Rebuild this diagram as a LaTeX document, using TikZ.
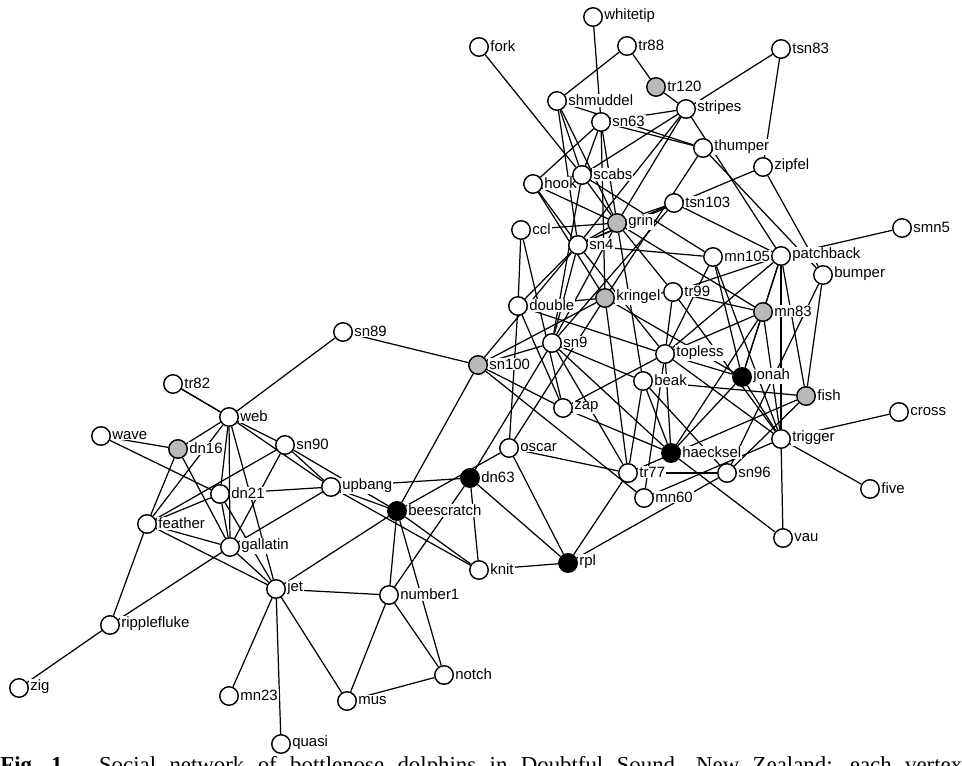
\documentclass[tikz,border=0pt]{standalone}
\usepackage{fontspec}
\setmainfont{Liberation Serif}
\setsansfont{Liberation Sans}
\usetikzlibrary{backgrounds}

\begin{document}
\begin{tikzpicture}[x = 0.02cm, y = -0.02cm]
        \tikzset{Dolphin/.style = {circle, draw, fill = white,
            minimum size = 0.37cm, inner sep = 0pt, line width = 0.8pt,
            label = {[Tag]right:#1}},
          Tag/.style  = {font = \sffamily\fontsize{8.5}{9}\selectfont,
            fill = white, inner sep = 0.6pt, yshift = 0.5pt},
          Plain/.style = {},
          Grey/.style  = {fill = gray!55},
          Black/.style = {fill = black},
          Link/.style  = {line width = 0.7pt}}
        \useasboundingbox (0,0) rectangle (962,766);
        % dolphins
        \foreach \n/\x/\y/\s in {whitetip/593/17/Plain, fork/479/47/Plain,
            tr88/627/46/Plain, tr120/656/87/Grey, tsn83/781/49/Plain,
            shmuddel/557/101/Plain, sn63/601/122/Plain, stripes/686/109/Plain,
            thumper/703/148/Plain, zipfel/763/167/Plain, hook/533/184/Plain,
            scabs/582/175/Plain, tsn103/674/203/Plain, grin/617/223/Grey,
            smn5/902/228/Plain, ccl/521/230/Plain, sn4/578/245/Plain,
            mn105/713/257/Plain, patchback/781/256/Plain, bumper/823/275/Plain,
            double/518/306/Plain, kringel/605/298/Grey, tr99/673/292/Plain,
            mn83/763/312/Grey, sn89/343/332/Plain, sn9/552/343/Plain,
            topless/665/354/Plain, sn100/478/365/Grey, jonah/742/377/Black,
            beak/643/381/Plain, tr82/173/384/Plain, fish/806/396/Grey,
            zap/563/408/Plain, cross/899/412/Plain, web/229/417/Plain,
            wave/101/436/Plain, dn16/178/449/Grey, sn90/285/445/Plain,
            trigger/781/439/Plain, oscar/509/448/Plain, haecksel/671/453/Black,
            tr77/628/473/Plain, sn96/727/473/Plain, dn63/470/478/Black,
            dn21/220/494/Plain, upbang/331/487/Plain, mn60/644/498/Plain,
            five/870/489/Plain, feather/147/524/Plain, beescratch/397/511/Black,
            gallatin/230/547/Plain, knit/479/570/Plain, rpl/568/563/Black,
            jet/276/589/Plain, number1/389/595/Plain, ripplefluke/110/625/Plain,
            vau/783/538/Plain, notch/444/675/Plain, zig/19/688/Plain,
            mn23/229/696/Plain, mus/347/701/Plain, quasi/281/744/Plain}
          \node[Dolphin = \n, \s] (\n) at (\x,\y) {};
        % associations
        \begin{scope}[on background layer]
          \foreach \a/\b in {double/ccl, feather/dn16, feather/dn21, fish/beak,
              fish/bumper, gallatin/dn16, gallatin/dn21, gallatin/feather,
              grin/beak, grin/ccl, haecksel/beak, hook/grin, jet/beescratch,
              jet/dn21, jet/feather, jet/gallatin, jonah/haecksel,
              knit/beescratch, knit/dn63, kringel/double, kringel/hook,
              kringel/jonah, mn105/jonah, mn23/jet, mn83/grin, mn83/haecksel,
              mn83/jonah, mus/jet, notch/beescratch, notch/mus,
              number1/beescratch, number1/dn63, number1/jet, number1/mus,
              number1/notch, oscar/beescratch, oscar/double, oscar/kringel,
              patchback/fish, patchback/jonah, patchback/mn105, patchback/mn83,
              rpl/dn63, rpl/knit, rpl/oscar, quasi/jet, ripplefluke/feather,
              ripplefluke/gallatin, scabs/fork, scabs/grin, scabs/hook,
              scabs/mn105, shmuddel/grin, shmuddel/scabs, smn5/patchback,
              sn100/beescratch, sn100/kringel, sn100/mn60, sn4/double, sn4/grin,
              sn4/hook, sn4/mn105, sn4/shmuddel, sn4/sn100, sn63/grin,
              sn63/hook, sn63/kringel, sn63/scabs, sn89/sn100, sn9/beak,
              sn9/dn63, sn9/grin, sn9/haecksel, sn9/scabs, sn9/sn100, sn9/sn4,
              sn90/beescratch, sn90/feather, sn90/gallatin, sn96/beak,
              sn96/bumper, sn96/fish, sn96/rpl, stripes/grin, stripes/patchback,
              stripes/scabs, stripes/sn4, stripes/sn63, thumper/bumper,
              thumper/kringel, thumper/shmuddel, thumper/sn63, topless/double,
              topless/haecksel, topless/jonah, topless/mn105, topless/mn60,
              topless/mn83, topless/patchback, topless/sn4, tr120/stripes,
              tr77/beak, tr77/fish, tr77/kringel, tr77/oscar, tr77/rpl,
              tr77/sn9, tr77/sn96, tr82/web, tr88/tr120, tr88/shmuddel,
              tr99/grin, tr99/kringel, tr99/mn83, tr99/patchback, tr99/topless,
              trigger/cross, trigger/five, trigger/jonah, trigger/mn105,
              trigger/mn60, trigger/mn83, trigger/patchback, trigger/topless,
              trigger/tr99, tsn103/grin, tsn103/patchback, tsn103/sn4,
              tsn103/sn9, tsn83/stripes, upbang/beescratch, upbang/dn21,
              upbang/dn63, upbang/gallatin, upbang/knit, upbang/sn90,
              vau/haecksel, vau/trigger, wave/dn16, wave/dn21, web/dn16,
              web/dn21, web/feather, web/gallatin, web/jet, web/sn89, web/sn90,
              web/tr82, web/upbang, whitetip/sn63, zap/ccl, zap/double,
              zap/haecksel, zap/sn100, zap/topless, zig/ripplefluke,
              zipfel/bumper, zipfel/sn4, zipfel/tsn83}
            \draw[Link] (\a) -- (\b);
        \end{scope}
        % caption
        \node[anchor = base west, inner sep = 0pt,
          font = \fontsize{13}{15}\selectfont] (caption) at (0,772)
          {\makebox[19.24cm][s]{\textbf{Fig.~1.} Social network of bottlenose
            dolphins in Doubtful Sound, New Zealand; each vertex}};
      \end{tikzpicture}
\end{document}
